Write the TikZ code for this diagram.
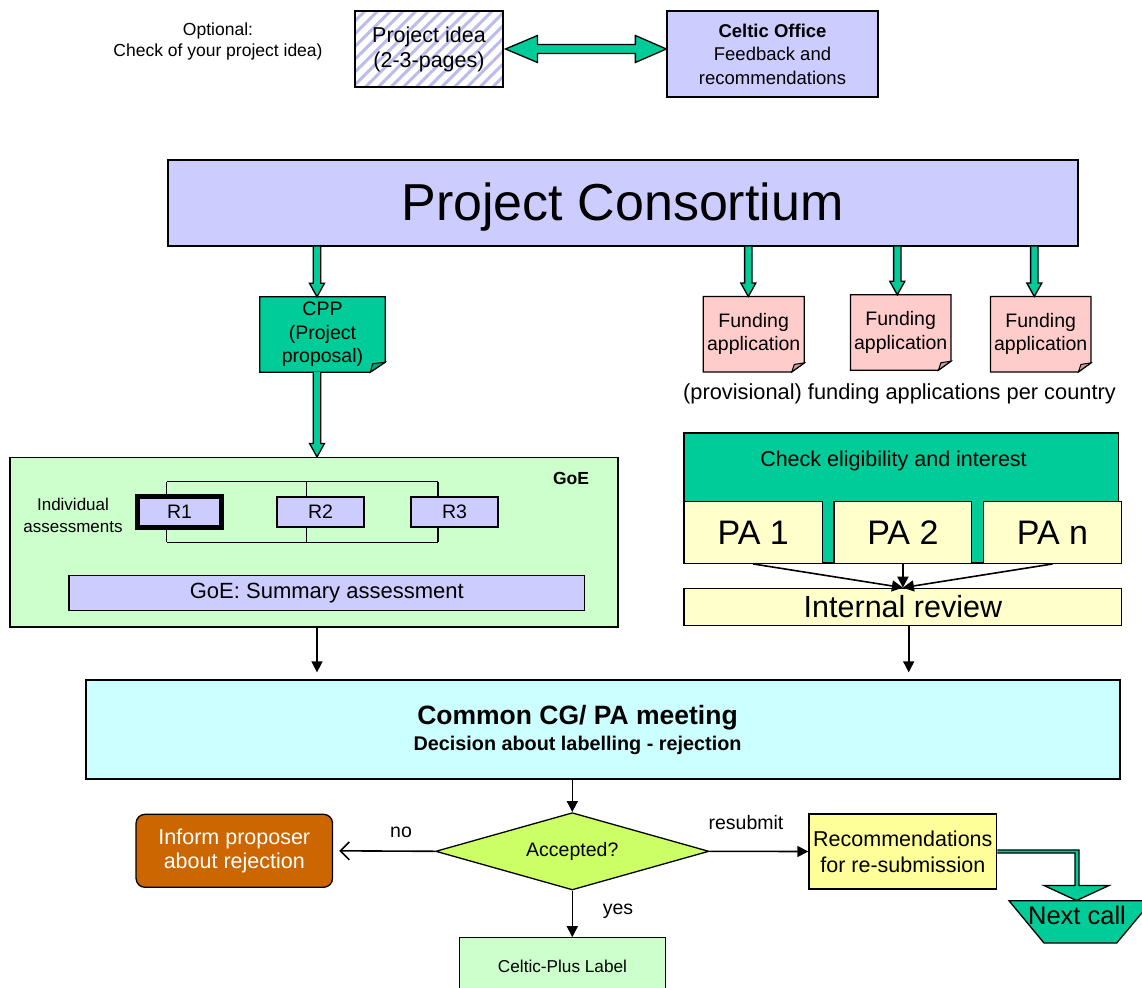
\documentclass[tikz,border=0pt]{standalone}
\usepackage{fontspec}
\setmainfont{Liberation Sans}
\usetikzlibrary{arrows.meta,calc,patterns.meta,backgrounds,shapes.geometric}
\definecolor{cgreen}{HTML}{00CC99}
\definecolor{clav}{HTML}{CCCCFF}
\definecolor{clgreen}{HTML}{CCFFCC}
\definecolor{clyellow}{HTML}{FFFFCC}
\definecolor{clcyan}{HTML}{CCFFFF}
\definecolor{cpink}{HTML}{FFCCCC}
\definecolor{clime}{HTML}{CCFF66}
\definecolor{corange}{HTML}{CC6600}
\definecolor{cyell}{HTML}{FFFF99}
\definecolor{chatch}{HTML}{BBBBEE}
\definecolor{cfoldg}{HTML}{00A078}
\definecolor{cfoldp}{HTML}{C89A9A}
\newcommand\fs[2]{\fontsize{#1pt}{#2pt}\selectfont}
\newcommand\vblock[2]{\draw[blockarrow] let \p1=(#1), \p2=(#2) in
  (\x2-3.7pt,\y1) -- (\x2-3.7pt,\y2+13.5pt) -- (\x2-7.5pt,\y2+13.5pt) -- (\x2,\y2)
  -- (\x2+7.5pt,\y2+13.5pt) -- (\x2+3.7pt,\y2+13.5pt) -- (\x2+3.7pt,\y1);}
\newcommand\foldshape[5]{%
  \begin{scope}[on background layer]
  \draw[line width=1.3pt, fill=#2] (#1.north west) -- (#1.north east) -- ($(#1.south east)+(0,-#5)$)
    -- ($(#1.south east)+(-#4,0)$) -- (#1.south west) -- cycle;
  \draw[line width=1pt, fill=#3] ($(#1.south east)+(0,-#5)$) -- ($(#1.south east)+(-#4,0)$)
    -- ($(#1.south east)+(-#4+2.5,-#5+1.5)$) -- cycle;
  \end{scope}}
\begin{document}
\begin{tikzpicture}[x=1pt,y=-1pt,line join=miter,
  box/.style={draw,line width=1.3pt,inner sep=0pt,align=center},
  foldbox/.style={inner sep=0pt,align=center},
  blockarrow/.style={draw,fill=cgreen,line width=1.3pt,line join=miter},
  conn/.style={line width=1.6pt,-{Triangle[length=11pt,width=11pt]}},
  lbl/.style={font=\fs{19.5}{22}}]
\begin{scope}[on background layer]
\fill[white] (0,0) rectangle (1142,987);
\end{scope}
\useasboundingbox (0,0) rectangle (1142,987);

% top row
\node[align=center,font=\fs{17.5}{21}] (opt) at (218,41) {Optional:\\Check of your project idea)};
\node[box,pattern={Lines[angle=45,distance=9pt,line width=3pt]},pattern color=chatch,
  minimum width=148pt,minimum height=76pt,font=\fs{21.5}{25}] (idea) at (429,49) {Project idea\\(2-3-pages)};
\node[box,fill=clav,minimum width=211pt,minimum height=86pt,font=\fs{18.5}{23.5}] (office) at (772.5,54)
  {\textbf{Celtic Office}\\Feedback and\\recommendations};
\draw[blockarrow] let \p1=(idea.east), \p2=(office.west) in
  (\x1+1pt,\y1) -- (\x1+33pt,\y1+13.5pt) -- (\x1+33pt,\y1+4.5pt) -- (\x2-31pt,\y1+4.5pt)
  -- (\x2-31pt,\y1+13.5pt) -- (\x2,\y1) -- (\x2-31pt,\y1-13.5pt) -- (\x2-31pt,\y1-4.5pt)
  -- (\x1+33pt,\y1-4.5pt) -- (\x1+33pt,\y1-13.5pt) -- cycle;

% consortium
\node[box,fill=clav,minimum width=910pt,minimum height=86pt] (pc) at (623,203) {};
\node[font=\fs{52}{60}] (pctxt) at (622.5,207) {Project Consortium};

\coordinate (colL) at (317,0);
\coordinate (colR) at (908.7,0);

% CPP and funding applications
\node[foldbox,minimum width=125pt,minimum height=75pt,font=\fs{19.5}{23.5}] (cpp) at (322.5,334.5) {CPP\\(Project\\proposal)};
\foldshape{cpp}{cgreen}{cfoldg}{15}{10}
\node[foldbox,minimum width=100.7pt,minimum height=75pt,font=\fs{19.5}{23.3}] (fa1) at (753.7,334.2) {Funding\\application};
\node[foldbox,minimum width=100pt,minimum height=75pt,font=\fs{19.5}{23.3}] (fa2) at (900.7,332.5) {Funding\\application};
\node[foldbox,minimum width=100pt,minimum height=75pt,font=\fs{19.5}{23.3}] (fa3) at (1040.7,334.2) {Funding\\application};
\foldshape{fa1}{cpink}{cfoldp}{12.5}{9}
\foldshape{fa2}{cpink}{cfoldp}{12.5}{9}
\foldshape{fa3}{cpink}{cfoldp}{12.5}{9}
\coordinate (fa1t) at ($(fa1.north)+(-5.4,0)$);
\coordinate (fa2t) at ($(fa2.north)+(-3.4,0)$);
\coordinate (fa3t) at ($(fa3.north)+(-6.4,0)$);
\node[font=\fs{21.8}{25}] (prov) at (899.5,394) {(provisional) funding applications per country};

\vblock{pc.south -| colL}{cpp.north -| colL}
\vblock{pc.south -| fa1t}{fa1t}
\vblock{pc.south -| fa2t}{fa2t}
\vblock{pc.south -| fa3t}{fa3t}

% GoE
\node[box,fill=clgreen,minimum width=608pt,minimum height=169.5pt] (goe) at (314,542.3) {};
\vblock{cpp.south -| colL}{goe.north -| colL}
\node[font=\bfseries\fs{17.5}{20}] (goelbl) at (571,478) {GoE};
\coordinate (b1t) at (166.7,481.7);
\coordinate (b2t) at (306.5,481.7);
\coordinate (b3t) at (438,481.7);
\coordinate (b1b) at (166.7,542.3);
\coordinate (b2b) at (306.5,542.3);
\coordinate (b3b) at (438,542.3);
\draw[line width=1.2pt] (b1t) -- (b3t) (b1b) -- (b3b) (b1t) -- (b1b) (b2t) -- (b2b) (b3t) -- (b3b);
\node[align=center,font=\fs{17}{22}] (indiv) at (73,515) {Individual\\assessments};
\node[box,fill=clav,line width=5pt,minimum width=84pt,minimum height=31pt,font=\fs{19.5}{22}] (r1) at (179.5,512) {R1};
\node[box,fill=clav,minimum width=87pt,minimum height=30pt,font=\fs{19.5}{22}] (r2) at (320.5,512) {R2};
\node[box,fill=clav,minimum width=87pt,minimum height=30pt,font=\fs{19.5}{22}] (r3) at (454.5,512) {R3};
\node[box,fill=clav,minimum width=515.6pt,minimum height=35pt,font=\fs{22}{24}] (summ) at (326.8,593.2) {GoE: Summary assessment};

% PA side
\node[box,fill=cgreen,minimum width=434.3pt,minimum height=130pt] (check) at (901.2,498) {};
\node[font=\fs{21.5}{24}] (checktxt) at (893.5,461) {Check eligibility and interest};
\node[box,fill=clyellow,minimum width=138.3pt,minimum height=61.6pt,font=\fs{34}{36}] (pa1) at (753.2,532.5) {PA 1};
\node[box,fill=clyellow,minimum width=137.7pt,minimum height=61.6pt,font=\fs{34}{36}] (pa2) at (902.9,532.5) {PA 2};
\node[box,fill=clyellow,minimum width=138.4pt,minimum height=61.6pt,font=\fs{34}{36}] (pan) at (1052.5,532.5) {PA n};
\node[box,fill=clyellow,minimum width=437.7pt,minimum height=37.4pt,font=\fs{30.5}{33}] (ir) at (902.9,607) {Internal review};
\draw[conn] (pa1.south) -- (ir.north);
\draw[conn] (pa2.south) -- (ir.north);
\draw[conn] (pan.south) -- (ir.north);

% meeting
\node[box,fill=clcyan,minimum width=1034pt,minimum height=99pt] (meet) at (603,729.5) {};
\node[align=center,font=\bfseries\fs{19.8}{26}] (meettxt) at (577.5,730)
  {{\fs{26.5}{26}Common CG/ PA meeting}\\Decision about labelling - rejection};
\draw[conn,shorten >=7pt] (goe.south -| colL) -- (meet.north -| colL);
\draw[conn,shorten >=7pt] (ir.south -| colR) -- (meet.north -| colR);

% decision
\node[draw,line width=1.3pt,fill=clime,shape=diamond,aspect=3.5,inner sep=0pt,
  minimum width=273.3pt,minimum height=77.3pt,font=\fs{19.5}{21}] (acc) at (572.3,851.3) {Accepted?};
\draw[conn] (meet.south -| acc.north) -- (acc.north);
\node[box,rounded corners=9pt,fill=corange,text=white,minimum width=196.5pt,minimum height=73pt,font=\fs{21.5}{24.7}] (inform) at (234.3,850.8) {Inform proposer\\about rejection};
\draw[line width=1.6pt,-{Straight Barb[length=9pt,width=18pt,line width=1.6pt]},shorten >=6pt] (acc.west) -- (inform.east);
\node[lbl] (nolbl) at (401,832) {no};
\node[box,fill=clgreen,minimum width=206pt,minimum height=57pt,font=\fs{17.2}{20}] (label) at (562.5,966.3) {Celtic-Plus Label};
\draw[conn] (acc.south) -- (acc.south |- label.north);
\node[lbl] (yeslbl) at (618,911.7) {yes};
\node[box,fill=cyell,minimum width=187.7pt,minimum height=75pt,font=\fs{21.5}{26}] (rec) at (902.8,851.5) {Recommendations\\for re-submission};
\draw[conn] (acc.east) -- (rec.west);
\node[lbl] (reslbl) at (746,823) {resubmit};

% next call
\draw[line width=1.3pt,fill=cgreen] (1009,900.7) -- (1152,900.7) -- (1116.7,943) -- (1044,943) -- cycle;
\node[font=\fs{25.5}{28}] (next) at (1077,915) {Next call};
\coordinate (nextTop) at (1076.5,900.5);
\draw[blockarrow] let \p1=(rec.east), \p2=(nextTop) in
  (\x1,\y1+1.5pt) -- (\x2+2.5pt,\y1+1.5pt) -- (\x2+2.5pt,\y2+15pt) -- (\x2+32.5pt,\y2+15pt)
  -- (\x2,\y2) -- (\x2-32.5pt,\y2+15pt) -- (\x2-1.5pt,\y2+15pt) -- (\x2-1.5pt,\y1-1.5pt) -- (\x1,\y1-1.5pt);
\end{tikzpicture}
\end{document}
